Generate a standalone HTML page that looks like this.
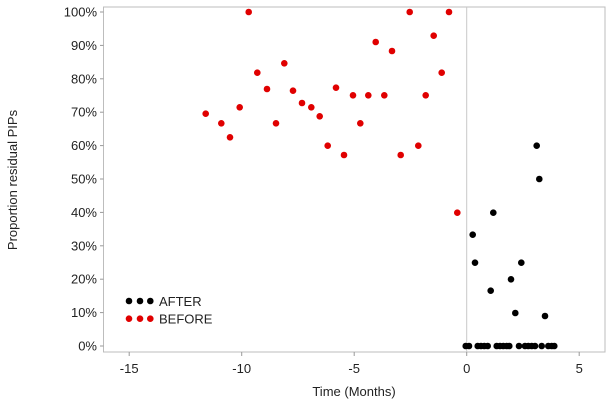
<!DOCTYPE html>
<html><head><meta charset="utf-8"><style>
html,body{margin:0;padding:0;background:#fff;}
svg{display:block;font-family:"Liberation Sans",Arial,sans-serif;}
</style></head><body>
<svg width="614" height="412" viewBox="0 0 614 412" xmlns="http://www.w3.org/2000/svg">
<rect x="0" y="0" width="614" height="412" fill="#fff"/>
<rect x="103.5" y="7" width="501.5" height="345" fill="none" stroke="#bdbdbd" stroke-width="1"/>
<line x1="466.7" y1="7" x2="466.7" y2="352" stroke="#c8c8c8" stroke-width="1"/>
<g stroke="#999" stroke-width="1">
<line x1="100" y1="12" x2="103.5" y2="12"/><line x1="100" y1="45.4" x2="103.5" y2="45.4"/>
<line x1="100" y1="78.8" x2="103.5" y2="78.8"/><line x1="100" y1="112.2" x2="103.5" y2="112.2"/>
<line x1="100" y1="145.6" x2="103.5" y2="145.6"/><line x1="100" y1="179" x2="103.5" y2="179"/>
<line x1="100" y1="212.4" x2="103.5" y2="212.4"/><line x1="100" y1="245.8" x2="103.5" y2="245.8"/>
<line x1="100" y1="279.2" x2="103.5" y2="279.2"/><line x1="100" y1="312.6" x2="103.5" y2="312.6"/>
<line x1="100" y1="346" x2="103.5" y2="346"/>
<line x1="129.2" y1="352" x2="129.2" y2="356"/><line x1="241.7" y1="352" x2="241.7" y2="356"/>
<line x1="354.2" y1="352" x2="354.2" y2="356"/><line x1="466.7" y1="352" x2="466.7" y2="356"/>
<line x1="579.2" y1="352" x2="579.2" y2="356"/>
</g>
<g font-size="13" fill="#222" text-anchor="end">
<text x="97" y="16.5">100%</text><text x="97" y="49.9">90%</text><text x="97" y="83.3">80%</text>
<text x="97" y="116.7">70%</text><text x="97" y="150.1">60%</text><text x="97" y="183.5">50%</text>
<text x="97" y="216.9">40%</text><text x="97" y="250.3">30%</text><text x="97" y="283.7">20%</text>
<text x="97" y="317.1">10%</text><text x="97" y="350.5">0%</text>
</g>
<g font-size="13" fill="#222" text-anchor="middle">
<text x="129.2" y="373">-15</text><text x="241.7" y="373">-10</text><text x="354.2" y="373">-5</text>
<text x="466.7" y="373">0</text><text x="579.2" y="373">5</text>
<text x="354" y="396">Time (Months)</text>
<text transform="translate(17,180) rotate(-90)">Proportion residual PIPs</text>
</g>
<g fill="#e00000">
<circle cx="205.7" cy="113.7" r="3.3"/><circle cx="221.3" cy="123.3" r="3.3"/><circle cx="230" cy="137.3" r="3.3"/>
<circle cx="239.7" cy="107.3" r="3.3"/><circle cx="248.7" cy="12" r="3.3"/><circle cx="257.3" cy="72.7" r="3.3"/>
<circle cx="267" cy="89" r="3.3"/><circle cx="276" cy="123.3" r="3.3"/><circle cx="284.3" cy="63.3" r="3.3"/>
<circle cx="293" cy="90.7" r="3.3"/><circle cx="302" cy="103" r="3.3"/><circle cx="311.3" cy="107.3" r="3.3"/>
<circle cx="319.7" cy="116.3" r="3.3"/><circle cx="327.7" cy="145.7" r="3.3"/><circle cx="336" cy="87.7" r="3.3"/>
<circle cx="344" cy="155" r="3.3"/><circle cx="353" cy="95.3" r="3.3"/><circle cx="360.3" cy="123.3" r="3.3"/>
<circle cx="368.3" cy="95.3" r="3.3"/><circle cx="375.7" cy="42" r="3.3"/><circle cx="384.3" cy="95.3" r="3.3"/>
<circle cx="392" cy="51" r="3.3"/><circle cx="400.7" cy="155" r="3.3"/><circle cx="409.7" cy="12" r="3.3"/>
<circle cx="418.3" cy="145.7" r="3.3"/><circle cx="425.7" cy="95.3" r="3.3"/><circle cx="433.7" cy="35.7" r="3.3"/>
<circle cx="441.7" cy="72.7" r="3.3"/><circle cx="449" cy="12" r="3.3"/><circle cx="457.3" cy="212.7" r="3.3"/>
<circle cx="129" cy="318.7" r="3.3"/><circle cx="140" cy="318.7" r="3.3"/><circle cx="150.3" cy="318.7" r="3.3"/>
</g>
<g fill="#000">
<circle cx="536.7" cy="145.7" r="3.3"/><circle cx="539.3" cy="179" r="3.3"/><circle cx="493.3" cy="212.7" r="3.3"/>
<circle cx="472.7" cy="234.7" r="3.3"/><circle cx="475" cy="262.7" r="3.3"/><circle cx="521.3" cy="262.7" r="3.3"/>
<circle cx="511" cy="279.3" r="3.3"/><circle cx="490.7" cy="290.7" r="3.3"/><circle cx="515.3" cy="313" r="3.3"/>
<circle cx="545" cy="316" r="3.3"/>
<circle cx="465.7" cy="346" r="3.3"/><circle cx="469" cy="346" r="3.3"/><circle cx="477.7" cy="346" r="3.3"/>
<circle cx="481" cy="346" r="3.3"/><circle cx="484.3" cy="346" r="3.3"/><circle cx="487.7" cy="346" r="3.3"/>
<circle cx="496.7" cy="346" r="3.3"/><circle cx="500" cy="346" r="3.3"/><circle cx="503.3" cy="346" r="3.3"/>
<circle cx="506.7" cy="346" r="3.3"/><circle cx="509.3" cy="346" r="3.3"/><circle cx="519" cy="346" r="3.3"/>
<circle cx="525" cy="346" r="3.3"/><circle cx="528.3" cy="346" r="3.3"/><circle cx="531.7" cy="346" r="3.3"/>
<circle cx="535" cy="346" r="3.3"/><circle cx="541.7" cy="346" r="3.3"/><circle cx="548.3" cy="346" r="3.3"/>
<circle cx="551.7" cy="346" r="3.3"/><circle cx="554.3" cy="346" r="3.3"/>
<circle cx="129" cy="301" r="3.3"/><circle cx="140" cy="301" r="3.3"/><circle cx="150.3" cy="301" r="3.3"/>
</g>
<g font-size="13" fill="#222">
<text x="159" y="306">AFTER</text>
<text x="159" y="323.5">BEFORE</text>
</g>
</svg>
</body></html>
